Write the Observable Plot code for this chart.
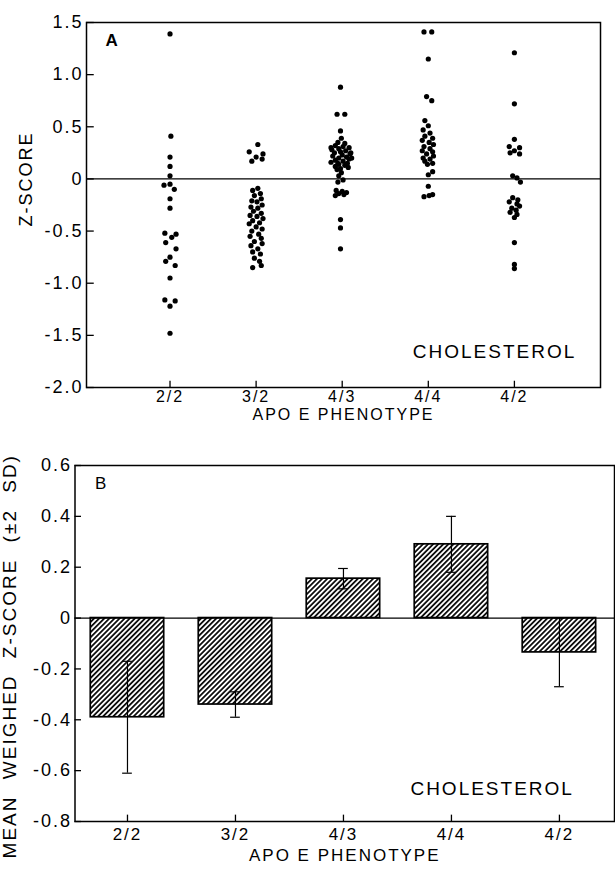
<!DOCTYPE html>
<html><head><meta charset="utf-8">
<script src="https://cdn.jsdelivr.net/npm/d3@7"></script>
<script src="https://cdn.jsdelivr.net/npm/@observablehq/plot@0.6"></script>
<style>
html,body{margin:0;padding:0;background:#fff;}
#chart{width:615px;}
svg{display:block;overflow:visible;}
</style></head><body><div id="chart"></div>
<script>
const categories = ["2/2","3/2","4/3","4/4","4/2"];

// Panel A: individual z-scores, [z, horizontal scatter offset in category steps]
const pts22 = [[1.39,0],[0.41,0.01],[0.21,0],[0.12,0],[0.03,0],[-0.06,-0.07],[-0.05,0],[-0.10,0.05],[-0.19,0],[-0.28,0],
  [-0.52,-0.06],[-0.53,0.07],[-0.56,0.02],[-0.61,-0.05],[-0.67,0.07],[-0.75,0],[-0.79,-0.05],[-0.83,0.06],[-0.95,0],
  [-1.16,-0.06],[-1.17,0.06],[-1.22,0],[-1.48,0]];
const pts32 = [[0.33,0.02],[0.26,-0.08],[0.24,0.08],[0.21,0],[0.19,0.07],[0.17,-0.05],
  [-0.09,0.02],[-0.11,-0.04],[-0.14,0.05],[-0.16,-0.02],[-0.19,0.06],[-0.21,-0.05],[-0.22,0.01],[-0.25,0.07],[-0.27,-0.06],[-0.28,0.02],
  [-0.31,-0.03],[-0.33,0.06],[-0.35,-0.07],[-0.36,0.01],[-0.38,0.08],[-0.40,-0.04],[-0.42,0.04],[-0.43,-0.08],[-0.46,0],[-0.48,0.07],
  [-0.50,-0.05],[-0.53,0.03],[-0.55,-0.07],[-0.57,0.06],[-0.60,-0.02],[-0.62,0.07],[-0.64,-0.06],[-0.67,0.02],[-0.70,-0.04],[-0.72,0.05],
  [-0.76,-0.02],[-0.79,0.04],[-0.83,0.06],[-0.85,-0.04]];
const pts43 = [[0.88,-0.02],[0.62,-0.06],[0.62,0.03],[0.46,-0.02],[0.39,-0.01],[0.35,-0.05],[0.34,0.03],
  [0.32,-0.08],[0.31,0.01],[0.30,0.08],[0.30,-0.13],[0.29,-0.04],[0.28,-0.12],[0.27,0.04],[0.26,-0.02],[0.25,-0.09],[0.25,0.10],
  [0.24,0.09],[0.23,0],[0.22,-0.11],[0.21,0.05],[0.20,-0.04],[0.20,0.11],[0.19,0.08],[0.18,-0.08],[0.17,0.01],[0.16,-0.13],
  [0.15,0.06],[0.15,-0.05],[0.14,-0.04],[0.13,0.03],[0.12,-0.08],[0.11,0.07],[0.10,-0.02],[0.09,-0.06],
  [0.06,-0.01],[0.03,-0.04],[-0.01,0.01],[-0.03,-0.05],
  [-0.11,-0.07],[-0.12,0],[-0.13,0.05],[-0.14,-0.04],[-0.15,0.02],[-0.16,-0.08],
  [-0.39,-0.02],[-0.47,-0.02],[-0.67,-0.02]];
const pts44 = [[1.41,-0.05],[1.41,0.04],[1.15,0],[0.79,-0.02],[0.75,0.04],[0.56,-0.04],[0.51,0],[0.47,-0.06],[0.44,0.02],
  [0.41,-0.04],[0.39,0.05],[0.37,-0.07],[0.35,0.01],[0.33,0.06],[0.31,-0.05],[0.29,0.02],[0.27,-0.07],[0.26,0.05],[0.24,-0.02],
  [0.22,0.06],[0.20,-0.06],[0.19,0.02],[0.17,-0.04],[0.15,0.05],[0.14,-0.01],
  [0.07,0.05],[0.04,0],[-0.07,0],[-0.15,0.05],[-0.16,0.01],[-0.17,-0.05]];
const pts42 = [[1.21,0],[0.72,0],[0.38,0],[0.31,-0.06],[0.30,0.06],[0.27,0],[0.25,-0.05],[0.24,0.06],
  [0.03,-0.02],[0.01,0.03],[-0.03,0.07],[-0.18,-0.02],[-0.20,0.04],[-0.22,-0.06],[-0.24,0.03],[-0.26,0.06],[-0.28,-0.03],
  [-0.30,0.02],[-0.32,-0.05],[-0.34,0.03],[-0.37,0],[-0.61,0],[-0.82,0],[-0.86,0]];

const yTicksA = [1.5, 1.0, 0.5, 0, -0.5, -1.0, -1.5, -2.0];
const yTickLabelsA = ["1.5","1.0","0.5","0","-0.5","-1.0","-1.5","-2.0"];

// Panel B: mean weighed z-score and 2 SD
const meansB = [-0.39, -0.34, 0.155, 0.29, -0.135];
const twoSdB = [0.22, 0.05, 0.04, 0.11, 0.135];
const yTicksB = [0.6, 0.4, 0.2, 0, -0.2, -0.4, -0.6, -0.8];
const yTickLabelsB = ["0.6","0.4","0.2","0","-0.2","-0.4","-0.6","-0.8"];

const xTitle = "APO E PHENOTYPE";
const yTitleA = "Z-SCORE";
const yTitleB = "MEAN WEIGHED Z-SCORE (±2 SD)";
const noteText = "CHOLESTEROL";

const catIdx = categories.map((_, i) => i);
const allPts = [pts22, pts32, pts43, pts44, pts42];
const rowsA = allPts.flatMap((pts, i) => pts.map(([z, o]) => ({pos: i + o, z})));
const rowsB = categories.map((c, i) => ({i, m: meansB[i], e: twoSdB[i]}));

const font = {fontFamily: "'Liberation Sans', Arial, sans-serif", fontSize: "18px", letterSpacing: "2px", background: "#fff", color: "#000", overflow: "visible"};

const xA0 = -0.97, xA1 = 5.0;
const plotA = Plot.plot({
  width: 615, height: 430,
  marginTop: 22, marginBottom: 43, marginLeft: 86, marginRight: 15,
  x: {domain: [xA0, xA1], axis: null},
  y: {domain: [-2, 1.5], axis: null},
  style: font,
  marks: [
    Plot.ruleY([0], {stroke: "#000", strokeWidth: 1.2}),
    Plot.ruleY(yTicksA, {y: d => d, x1: xA0, x2: xA0 + 0.09, stroke: "#000", strokeWidth: 1.3}),
    Plot.ruleX(catIdx, {x: d => d, y1: -2, y2: -1.94, stroke: "#000", strokeWidth: 1.3}),
    Plot.frame({stroke: "#000", strokeWidth: 1.5}),
    Plot.dot(rowsA, {x: "pos", y: "z", r: 2.6, fill: "#000", stroke: "none"}),
    Plot.text(yTicksA, {y: d => d, text: (d, i) => yTickLabelsA[i], frameAnchor: "left", textAnchor: "end", dx: -3}),
    Plot.text(catIdx, {x: d => d, text: d => categories[d], frameAnchor: "bottom", dy: 14, fontSize: 16}),
    Plot.text([xTitle], {frameAnchor: "bottom", dy: 32, fontSize: 16}),
    Plot.text([yTitleA], {y: () => 0, frameAnchor: "left", textAnchor: "middle", rotate: -90, dx: -60, letterSpacing: "3px"}),
    Plot.text(["A"], {frameAnchor: "top-left", dx: 19, dy: 11, fontSize: 17, fontWeight: "bold"}),
    Plot.text([noteText], {x: () => 2.82, y: () => -1.66, textAnchor: "start", fontSize: 19})
  ]
});

const xB0 = -0.486, xB1 = 4.51, halfBar = 0.34, cap = 0.045;
const plotB = Plot.plot({
  width: 615, height: 440,
  marginTop: 35, marginBottom: 49, marginLeft: 74.5, marginRight: 1,
  x: {domain: [xB0, xB1], axis: null},
  y: {domain: [-0.8, 0.6], axis: null},
  style: font,
  marks: [
    Plot.rectY(rowsB, {x1: d => d.i - halfBar, x2: d => d.i + halfBar, y1: 0, y2: "m", fill: "url(#hatchB)", stroke: "#000", strokeWidth: 1.7}),
    Plot.ruleY([0], {stroke: "#000", strokeWidth: 1.3}),
    Plot.ruleX(rowsB, {x: "i", y1: d => d.m - d.e, y2: d => d.m + d.e, stroke: "#000", strokeWidth: 1.2}),
    Plot.ruleY(rowsB, {y: d => d.m + d.e, x1: d => d.i - cap, x2: d => d.i + cap, stroke: "#000", strokeWidth: 1.2}),
    Plot.ruleY(rowsB, {y: d => d.m - d.e, x1: d => d.i - cap, x2: d => d.i + cap, stroke: "#000", strokeWidth: 1.2}),
    Plot.ruleY(yTicksB, {y: d => d, x1: xB0, x2: xB0 + 0.06, stroke: "#000", strokeWidth: 1.3}),
    Plot.ruleX(catIdx, {x: d => d, y1: -0.8, y2: -0.775, stroke: "#000", strokeWidth: 1.3}),
    Plot.frame({stroke: "#000", strokeWidth: 1.5}),
    Plot.text(yTicksB, {y: d => d, text: (d, i) => yTickLabelsB[i], frameAnchor: "left", textAnchor: "end", dx: -3}),
    Plot.text(catIdx, {x: d => d, text: d => categories[d], frameAnchor: "bottom", dy: 18, fontSize: 17}),
    Plot.text([xTitle], {frameAnchor: "bottom", dy: 39, fontSize: 17}),
    Plot.text([yTitleB], {y: () => -0.15, frameAnchor: "left", textAnchor: "middle", rotate: -90, dx: -65, fontSize: 19, letterSpacing: "2.5px"}),
    Plot.text(["B"], {frameAnchor: "top-left", dx: 20, dy: 11, fontSize: 17}),
    Plot.text([noteText], {x: () => 2.62, y: () => -0.67, textAnchor: "start", fontSize: 19})
  ]
});

// hatch pattern definition
const ns = "http://www.w3.org/2000/svg";
const defs = document.createElementNS(ns, "defs");
const pat = document.createElementNS(ns, "pattern");
pat.setAttribute("id", "hatchB");
pat.setAttribute("patternUnits", "userSpaceOnUse");
pat.setAttribute("width", "3.6");
pat.setAttribute("height", "3.6");
pat.setAttribute("patternTransform", "rotate(45)");
const bg = document.createElementNS(ns, "rect");
bg.setAttribute("width", "3.6"); bg.setAttribute("height", "3.6"); bg.setAttribute("fill", "#fff");
const ln = document.createElementNS(ns, "line");
ln.setAttribute("x1", "1.8"); ln.setAttribute("x2", "1.8"); ln.setAttribute("y1", "0"); ln.setAttribute("y2", "3.6");
ln.setAttribute("stroke", "#000"); ln.setAttribute("stroke-width", "1.7");
pat.appendChild(bg); pat.appendChild(ln); defs.appendChild(pat);
plotB.insertBefore(defs, plotB.firstChild);

// widen word gaps in the long rotated title
plotB.querySelectorAll("text").forEach(t => {
  if (t.textContent === yTitleB) t.setAttribute("word-spacing", "9");
});

document.getElementById("chart").append(plotA, plotB);
</script></body></html>
